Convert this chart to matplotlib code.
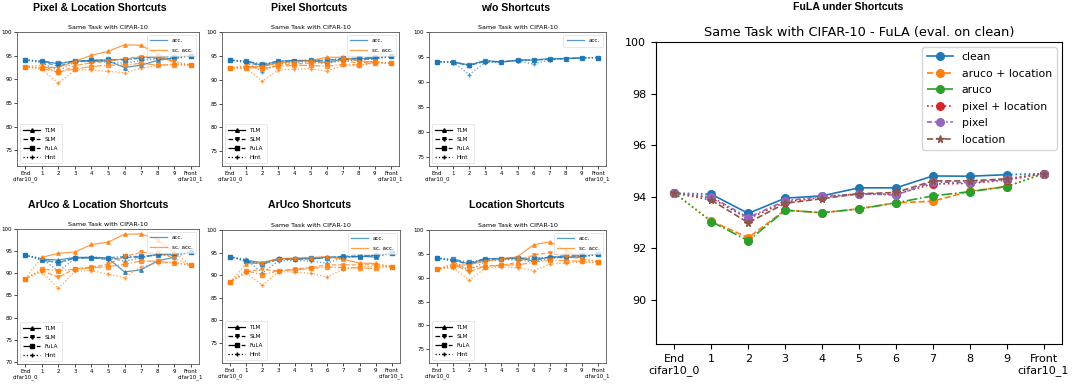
import matplotlib.pyplot as plt
import numpy as np
from matplotlib.lines import Line2D

# x axis: End, 1..9, Front
steps = np.arange(1, 10)
xlabels = ["End\ncifar10_0"] + [str(i) for i in range(1, 10)] + ["Front\ncifar10_1"]
methods = ["TLM", "SLM", "FuLA", "Hint"]

# ---- small panels: rows = TLM, SLM, FuLA, Hint (values at steps 1..9) ----
# Pixel & Location
pixloc_acc = [[93.8, 93.3, 93.9, 93.8, 93.9, 92.5, 93.0, 94.0, 94.5],
              [93.7, 92.8, 93.8, 94.0, 94.1, 94.2, 94.6, 94.5, 94.3],
              [93.9, 93.4, 93.9, 94.0, 94.2, 94.1, 94.5, 94.8, 94.8],
              [93.5, 91.8, 93.6, 93.9, 93.6, 93.4, 94.0, 94.3, 94.6]]
pixloc_sc = [[92.5, 92.5, 93.8, 95.1, 95.9, 97.3, 97.2, 95.3, 93.5],
             [93.0, 91.3, 92.9, 93.5, 93.8, 94.4, 94.8, 94.6, 93.9],
             [92.3, 91.5, 92.2, 92.7, 93.0, 93.0, 93.4, 93.0, 93.1],
             [92.1, 89.2, 92.0, 92.0, 91.7, 91.4, 92.3, 93.0, 93.2]]
pixloc_acc_ends = [94.1, 95.0]
pixloc_sc_ends = [92.7, 93.0]

# Pixel
pix_acc = [[93.9, 93.0, 93.9, 94.0, 94.0, 93.6, 94.3, 94.4, 94.5],
           [93.7, 92.8, 93.6, 93.9, 94.0, 94.1, 94.3, 94.2, 94.4],
           [93.9, 93.3, 93.9, 94.0, 94.1, 94.1, 94.5, 94.5, 94.7],
           [93.6, 91.7, 93.3, 93.6, 93.8, 93.4, 94.0, 94.1, 94.4]]
pix_sc = [[92.7, 92.8, 93.5, 93.8, 94.0, 94.7, 94.7, 93.9, 93.7],
          [92.9, 92.2, 93.0, 93.3, 93.5, 93.6, 94.1, 93.4, 93.9],
          [92.5, 92.5, 92.8, 93.0, 93.0, 92.8, 93.2, 93.1, 93.6],
          [92.4, 89.7, 92.0, 92.2, 92.3, 91.8, 93.0, 92.9, 93.5]]
pix_acc_ends = [94.1, 94.9]
pix_sc_ends = [92.5, 93.4]

# w/o shortcuts
clean_acc = [[94.0, 93.4, 94.3, 94.0, 94.4, 94.4, 94.7, 94.7, 94.8],
             [93.9, 93.3, 94.1, 94.0, 94.3, 94.4, 94.5, 94.7, 94.8],
             [94.0, 93.4, 94.2, 94.0, 94.4, 94.4, 94.6, 94.7, 94.8],
             [93.9, 91.5, 93.9, 94.0, 94.2, 93.6, 94.4, 94.7, 94.8]]
clean_acc_ends = [94.1, 94.9]

# ArUco & Location
arloc_acc = [[93.2, 93.0, 93.6, 93.6, 93.4, 90.3, 90.8, 92.8, 93.6],
             [93.0, 92.5, 93.4, 93.5, 93.1, 93.6, 93.6, 94.2, 94.2],
             [93.0, 92.3, 93.5, 93.4, 93.5, 93.8, 93.8, 94.2, 94.4],
             [93.4, 90.4, 93.3, 93.7, 93.5, 92.7, 93.5, 94.2, 94.0]]
arloc_sc = [[93.6, 94.5, 94.8, 96.5, 97.0, 98.8, 98.9, 97.6, 94.7],
            [90.6, 89.1, 91.0, 91.4, 92.0, 93.8, 94.7, 94.7, 93.4],
            [90.9, 90.6, 90.9, 91.2, 91.5, 92.0, 92.8, 92.7, 92.3],
            [90.3, 86.6, 90.5, 90.6, 89.8, 89.0, 91.5, 92.3, 92.5]]
arloc_acc_ends = [94.1, 94.9]
arloc_sc_ends = [88.8, 91.8]

# ArUco
ar_acc = [[93.3, 92.8, 93.7, 93.7, 93.8, 94.0, 94.0, 94.2, 94.0],
          [93.0, 92.4, 93.6, 93.5, 93.6, 93.9, 94.2, 94.3, 94.4],
          [93.1, 92.5, 93.5, 93.6, 93.7, 93.8, 94.1, 94.1, 94.3],
          [93.5, 90.5, 93.2, 93.3, 93.1, 92.7, 93.9, 94.1, 94.5]]
ar_sc = [[92.5, 92.8, 93.6, 93.8, 93.9, 94.1, 93.5, 92.7, 92.6],
         [90.8, 91.3, 90.9, 91.4, 91.7, 92.3, 92.3, 92.3, 92.3],
         [91.0, 90.1, 91.0, 91.2, 91.5, 91.8, 91.7, 91.6, 91.5],
         [90.4, 87.8, 90.8, 90.7, 90.4, 89.6, 91.4, 91.8, 92.0]]
ar_acc_ends = [94.1, 94.9]
ar_sc_ends = [88.5, 91.9]

# Location
loc_acc = [[93.7, 92.9, 94.0, 94.0, 94.2, 93.5, 94.4, 94.3, 94.3],
           [93.6, 92.8, 93.8, 93.9, 94.0, 93.9, 94.3, 94.2, 94.5],
           [93.9, 93.2, 94.0, 94.0, 94.1, 94.1, 94.2, 94.6, 94.7],
           [93.4, 91.5, 93.4, 93.8, 93.7, 93.3, 94.0, 94.3, 94.4]]
loc_sc = [[92.6, 92.7, 93.5, 93.9, 94.4, 96.9, 97.5, 95.8, 94.0],
          [92.9, 91.2, 92.5, 92.6, 93.2, 94.8, 95.2, 94.5, 94.0],
          [92.4, 92.1, 92.3, 92.6, 92.7, 93.2, 93.7, 93.6, 93.4],
          [92.1, 89.5, 92.0, 92.3, 92.1, 91.5, 92.8, 93.1, 93.3]]
loc_acc_ends = [94.1, 94.9]
loc_sc_ends = [91.8, 93.3]

# ---- big panel: FuLA evaluated on clean ----
big_labels = ["clean", "aruco + location", "aruco", "pixel + location", "pixel", "location"]
big_vals = [[94.10, 93.36, 93.95, 94.04, 94.35, 94.35, 94.81, 94.80, 94.86],
            [93.06, 92.42, 93.49, 93.38, 93.54, 93.77, 93.83, 94.22, 94.40],
            [93.04, 92.30, 93.48, 93.39, 93.53, 93.77, 94.04, 94.20, 94.40],
            [93.95, 93.15, 93.80, 93.98, 94.12, 94.10, 94.50, 94.52, 94.65],
            [94.00, 93.20, 93.85, 94.02, 94.12, 94.07, 94.58, 94.55, 94.68],
            [93.87, 93.00, 93.75, 93.93, 94.12, 94.17, 94.62, 94.62, 94.70]]
big_ends = [94.15, 94.9]

fig = plt.figure(figsize=(10.8, 3.84), dpi=100)
W, H = 1080, 384


def box(x0, y0, x1, y1):
    return [x0 / W, 1 - y1 / H, (x1 - x0) / W, (y1 - y0) / H]


mstyles = [("-", "^"), ("--", "v"), ("-.", "s"), (":", "+")]


def small_panel(rect, acc, sc, acc_ends, sc_ends, ylo, yticks, head, head_xy):
    ax = fig.add_axes(rect)
    groups = [(acc, acc_ends, "C0")]
    if sc is not None:
        groups.append((sc, sc_ends, "C1"))
    for vals, ends, col in groups:
        for m, (ls, mk) in enumerate(mstyles):
            y = vals[m]
            ax.plot(steps, y, ls=ls, marker=mk, color=col, lw=0.9, ms=2.6, alpha=0.75)
            ax.plot([0, 1], [ends[0], y[0]], ls=":", color=col, lw=0.9, alpha=0.75)
            ax.plot([9, 10], [y[-1], ends[1]], ls=":", color=col, lw=0.9, alpha=0.75)
        ax.plot([0, 10], ends, ls="none", marker="s", color=col, ms=3.4)
    ax.set_ylim(ylo, 100)
    ax.set_yticks(yticks)
    ax.set_xticks(range(11))
    ax.set_xticklabels(xlabels)
    ax.tick_params(labelsize=4, length=2, width=0.5, pad=1.5)
    for s in ax.spines.values():
        s.set_linewidth(0.6)
        s.set_color("#555555")
    ax.set_title("Same Task with CIFAR-10", fontsize=4.6, pad=2.5)
    ch = [Line2D([], [], color="C0", lw=0.9, alpha=0.75)]
    cl = ["acc."]
    if sc is not None:
        ch.append(Line2D([], [], color="C1", lw=0.9, alpha=0.75))
        cl.append("sc. acc.")
    leg1 = ax.legend(ch, cl, loc="upper right", fontsize=4.1, handlelength=3,
                     borderpad=0.6, labelspacing=0.8)
    leg1.get_frame().set_linewidth(0.4)
    mh = [Line2D([], [], color="k", ls=ls, marker=mk, lw=0.9, ms=2.6) for ls, mk in mstyles]
    leg2 = ax.legend(mh, methods, loc="lower left", fontsize=4.1, handlelength=3,
                     borderpad=0.6, labelspacing=0.7)
    leg2.get_frame().set_linewidth(0.4)
    ax.add_artist(leg1)
    fig.text(head_xy[0] / W, 1 - head_xy[1] / H, head, ha="center", va="center",
             fontsize=7.6, fontweight="bold", family="Liberation Sans")
    return ax


yt = [75, 80, 85, 90, 95, 100]
small_panel(box(17, 32, 199, 166), pixloc_acc, pixloc_sc, pixloc_acc_ends, pixloc_sc_ends,
            71.7, yt, "Pixel & Location Shortcuts", (100, 8))
small_panel(box(222, 32, 399, 166), pix_acc, pix_sc, pix_acc_ends, pix_sc_ends,
            71.9, yt, "Pixel Shortcuts", (309, 8))
small_panel(box(429, 32, 606, 166), clean_acc, None, clean_acc_ends, None,
            73.2, yt, "w/o Shortcuts", (516, 8))
small_panel(box(17, 229, 199, 364), arloc_acc, arloc_sc, arloc_acc_ends, arloc_sc_ends,
            69.5, [70] + yt, "ArUco & Location Shortcuts", (98, 205))
small_panel(box(222, 230, 400, 363), ar_acc, ar_sc, ar_acc_ends, ar_sc_ends,
            70.6, yt, "ArUco Shortcuts", (310, 205))
small_panel(box(429, 230, 606, 363), loc_acc, loc_sc, loc_acc_ends, loc_sc_ends,
            72.1, yt, "Location Shortcuts", (517, 205))

# big panel
ax = fig.add_axes(box(656, 42, 1062, 344))
big_styles = [("-", "o"), ("--", "o"), ("-.", "o"), (":", "o"), ((0, (3, 1.5, 1, 1.5)), "o"), ("--", "*")]
for i, (lab, vals) in enumerate(zip(big_labels, big_vals)):
    col = "C%d" % i
    ls, mk = big_styles[i]
    ax.plot(steps, vals, ls=ls, marker=mk, color=col, lw=1.2, ms=5.5, label=lab)
    ax.plot([0, 1], [big_ends[0], vals[0]], ls=":", color=col, lw=1.2)
    ax.plot([9, 10], [vals[-1], big_ends[1]], ls=":", color=col, lw=1.2)
    ax.plot([0, 10], big_ends, ls="none", marker=mk, color=col, ms=5.5)
ax.set_ylim(88.3, 100)
ax.set_yticks([90, 92, 94, 96, 98, 100])
ax.set_xticks(range(11))
ax.set_xticklabels(xlabels)
ax.tick_params(labelsize=8)
ax.set_title("Same Task with CIFAR-10 - FuLA (eval. on clean)", fontsize=9.3, pad=4)
ax.legend(loc="upper right", fontsize=7.8, handlelength=2.4, borderpad=0.45, labelspacing=0.6)
fig.text(848 / W, 1 - 7 / H, "FuLA under Shortcuts", ha="center", va="center",
         fontsize=7.6, fontweight="bold", family="Liberation Sans")

fig.savefig("out.png", dpi=100)
